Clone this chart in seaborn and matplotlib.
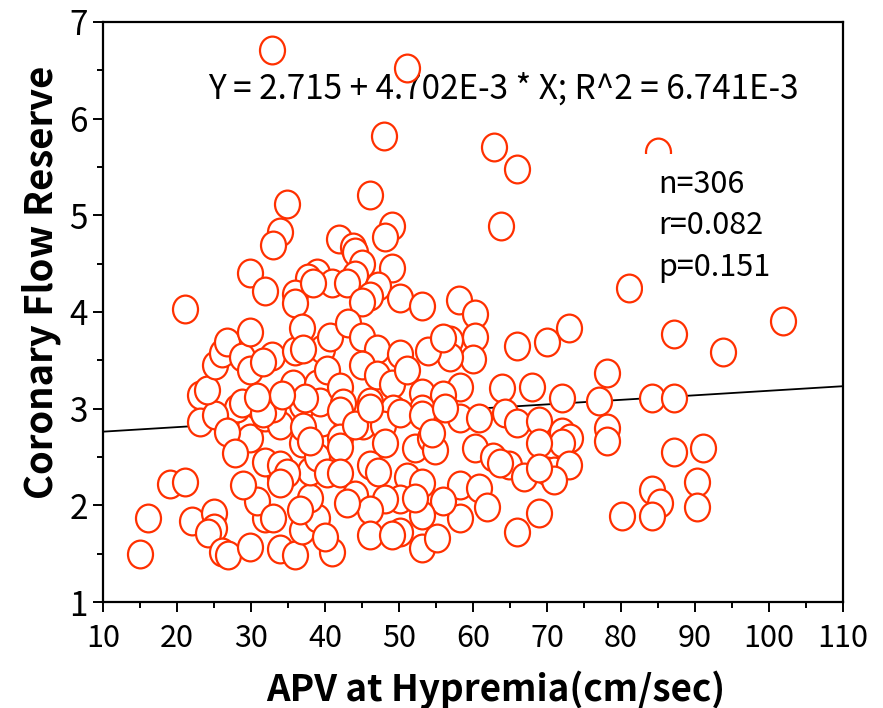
import numpy as np
import pandas as pd
import matplotlib
matplotlib.use("Agg")
import matplotlib.pyplot as plt
import seaborn as sns
from matplotlib.path import Path
from matplotlib.ticker import MultipleLocator

# ---- data ----
apv = [32.8, 51.1, 48.0, 62.8, 65.9, 85.0, 46.1, 34.9, 33.9, 33.0,
       49.1, 63.8, 48.1, 41.9, 43.8, 29.9, 31.9, 44.1, 45.0, 49.1,
       44.1, 38.9, 37.7, 40.9, 43.0, 47.2, 46.1, 45.0, 50.1, 53.1,
       58.1, 21.1, 35.9, 35.9, 81.1, 101.9, 87.2, 93.8, 60.3, 60.3,
       60.0, 56.9, 56.9, 65.9, 70.0, 73.0, 78.1, 63.9, 68.0, 72.0,
       77.0, 84.2, 87.2, 58.2, 58.2, 60.8, 64.3, 65.9, 68.9, 72.0,
       73.1, 72.0, 68.9, 78.1, 78.1, 60.3, 62.7, 64.9, 66.9, 70.0,
       70.9, 73.0, 70.9, 87.2, 91.1, 58.2, 60.8, 61.9, 58.2, 68.9,
       65.9, 84.2, 85.3, 84.2, 80.1, 90.3, 90.3, 15.0, 16.1, 19.1,
       21.1, 22.0, 25.0, 25.0, 24.2, 26.1, 26.9, 29.9, 33.9, 35.9,
       40.9, 31.9, 36.9, 38.9, 38.0, 30.8, 33.9, 31.9, 33.9, 36.9,
       38.0, 38.9, 29.9, 29.9, 31.9, 33.9, 28.1, 30.8, 36.9, 39.6,
       33.0, 23.1, 23.1, 25.1, 26.8, 27.8, 28.9, 24.1, 28.8, 31.6,
       35.7, 38.9, 39.3, 25.1, 26.1, 26.8, 28.8, 29.9, 29.9, 32.8,
       35.9, 31.6, 39.6, 40.7, 40.3, 36.9, 43.1, 45.0, 47.0, 50.1,
       53.9, 55.9, 37.0, 45.0, 47.0, 49.1, 51.1, 42.0, 46.1, 53.1,
       55.9, 53.1, 42.4, 49.2, 37.3, 34.2, 30.8, 42.0, 45.1, 47.8,
       50.1, 53.1, 37.0, 42.0, 42.0, 48.1, 52.2, 54.2, 54.9, 63.6,
       34.9, 33.9, 40.3, 42.0, 44.1, 46.1, 47.2, 51.1, 53.1, 55.9,
       53.1, 50.1, 48.1, 46.1, 43.0, 36.6, 33.0, 40.0, 46.1, 50.1,
       49.1, 53.1, 55.1, 38.0, 44.1, 46.1, 54.5, 56.2, 52.2, 68.9,
       38.4]
cfr = [6.71, 6.52, 5.82, 5.71, 5.48, 5.65, 5.21, 5.12, 4.83, 4.69,
       4.89, 4.89, 4.78, 4.75, 4.67, 4.40, 4.22, 4.62, 4.50, 4.45,
       4.38, 4.40, 4.35, 4.30, 4.30, 4.27, 4.17, 4.10, 4.14, 4.06,
       4.12, 4.03, 4.19, 4.09, 4.25, 3.91, 3.77, 3.59, 3.98, 3.74,
       3.51, 3.71, 3.53, 3.65, 3.69, 3.83, 3.37, 3.21, 3.22, 3.11,
       3.08, 3.11, 3.11, 3.22, 2.90, 2.90, 2.95, 2.85, 2.87, 2.76,
       2.70, 2.64, 2.64, 2.80, 2.67, 2.59, 2.50, 2.42, 2.29, 2.36,
       2.36, 2.42, 2.26, 2.55, 2.59, 2.21, 2.18, 1.98, 1.87, 1.92,
       1.72, 2.16, 2.02, 1.89, 1.89, 2.24, 1.98, 1.50, 1.87, 2.22,
       2.24, 1.84, 1.92, 1.77, 1.71, 1.52, 1.49, 1.57, 1.55, 1.49,
       1.52, 1.87, 1.74, 1.87, 2.08, 2.05, 2.29, 2.45, 2.42, 2.64,
       2.36, 2.50, 2.81, 2.70, 2.91, 2.83, 3.01, 3.04, 3.04, 2.86,
       3.01, 3.14, 2.86, 2.93, 2.76, 2.54, 2.21, 3.19, 3.06, 2.96,
       3.26, 3.26, 3.07, 3.45, 3.58, 3.69, 3.53, 3.40, 3.79, 3.54,
       3.60, 3.48, 3.62, 3.74, 3.40, 3.83, 3.89, 3.74, 3.62, 3.57,
       3.60, 3.73, 3.62, 3.45, 3.35, 3.26, 3.40, 3.22, 3.07, 3.16,
       3.14, 3.00, 3.06, 3.00, 3.11, 3.14, 3.12, 2.98, 2.83, 2.83,
       2.95, 2.93, 2.81, 2.70, 2.60, 2.64, 2.59, 2.70, 2.57, 2.44,
       2.33, 2.23, 2.33, 2.33, 2.11, 2.42, 2.34, 2.29, 2.23, 2.05,
       1.90, 2.07, 2.07, 1.95, 2.02, 1.95, 1.87, 1.67, 1.69, 1.72,
       1.69, 1.56, 1.66, 2.67, 2.83, 3.01, 2.75, 3.01, 2.08, 2.39,
       4.30]

fit_intercept = 2.715
fit_slope = 4.702e-3
x_ticks = [10, 20, 30, 40, 50, 60, 70, 80, 90, 100, 110]
y_ticks = [1, 2, 3, 4, 5, 6, 7]
equation_label = "Y = 2.715 + 4.702E-3 * X; R^2 = 6.741E-3"
stats_label = "n=306\nr=0.082\np=0.151"
x_title = "APV at Hypremia(cm/sec)"
y_title = "Coronary Flow Reserve"

df = pd.DataFrame({"APV": apv, "CFR": cfr})

sns.set_theme(style="white")
plt.rcParams["font.family"] = ["Noto Sans CJK KR", "DejaVu Sans"]

fig = plt.figure(figsize=(8.83, 7.08), dpi=100)
ax = fig.add_axes([0.1166, 0.1497, 0.8381, 0.8193])

# regression line
line_x = np.array([x_ticks[0], x_ticks[-1]], dtype=float)
ax.plot(line_x, fit_intercept + fit_slope * line_x, color="black", lw=1.3, zorder=1)

# slightly elliptical open circle marker
circ = Path.unit_circle()
ell = Path(circ.vertices * np.array([0.9, 1.0]), circ.codes)

sns.scatterplot(data=df, x="APV", y="CFR", ax=ax, marker=ell, s=400,
                facecolor="white", edgecolor="#FF3000", linewidth=1.6,
                zorder=2, legend=False)

ax.set_xlim(10, 110)
ax.set_ylim(1, 7)
ax.set_xticks(x_ticks)
ax.set_yticks(y_ticks)
ax.xaxis.set_minor_locator(MultipleLocator(5))
ax.yaxis.set_minor_locator(MultipleLocator(0.5))
ax.tick_params(which="both", direction="out", bottom=True, left=True,
               top=False, right=False, color="black", width=1.4)
ax.tick_params(which="major", length=7)
ax.tick_params(which="minor", length=4)
ax.tick_params(axis="x", labelsize=22, pad=8)
ax.tick_params(axis="y", labelsize=24, pad=4)
for lab in ax.get_xticklabels() + ax.get_yticklabels():
    lab.set_color("black")
for sp in ax.spines.values():
    sp.set_visible(True)
    sp.set_color("black")
    sp.set_linewidth(1.6)

ax.set_xlabel(x_title, fontsize=26.5, fontweight="bold", color="black", labelpad=12)
ax.set_ylabel(y_title, fontsize=27.5, fontweight="bold", color="black", labelpad=6)
ax.xaxis.label.set_x(0.531)
ax.yaxis.label.set_y(0.552)

ax.text(24.2, 6.31, equation_label, fontsize=24, color="black",
        ha="left", va="center", zorder=1.5)
ax.text(85.0, 4.89, stats_label, fontsize=22, color="black", ha="left",
        va="center", linespacing=1.42, zorder=3,
        bbox=dict(boxstyle="square,pad=0.5", facecolor="white", edgecolor="none"))

fig.savefig("out.png", dpi=100)
